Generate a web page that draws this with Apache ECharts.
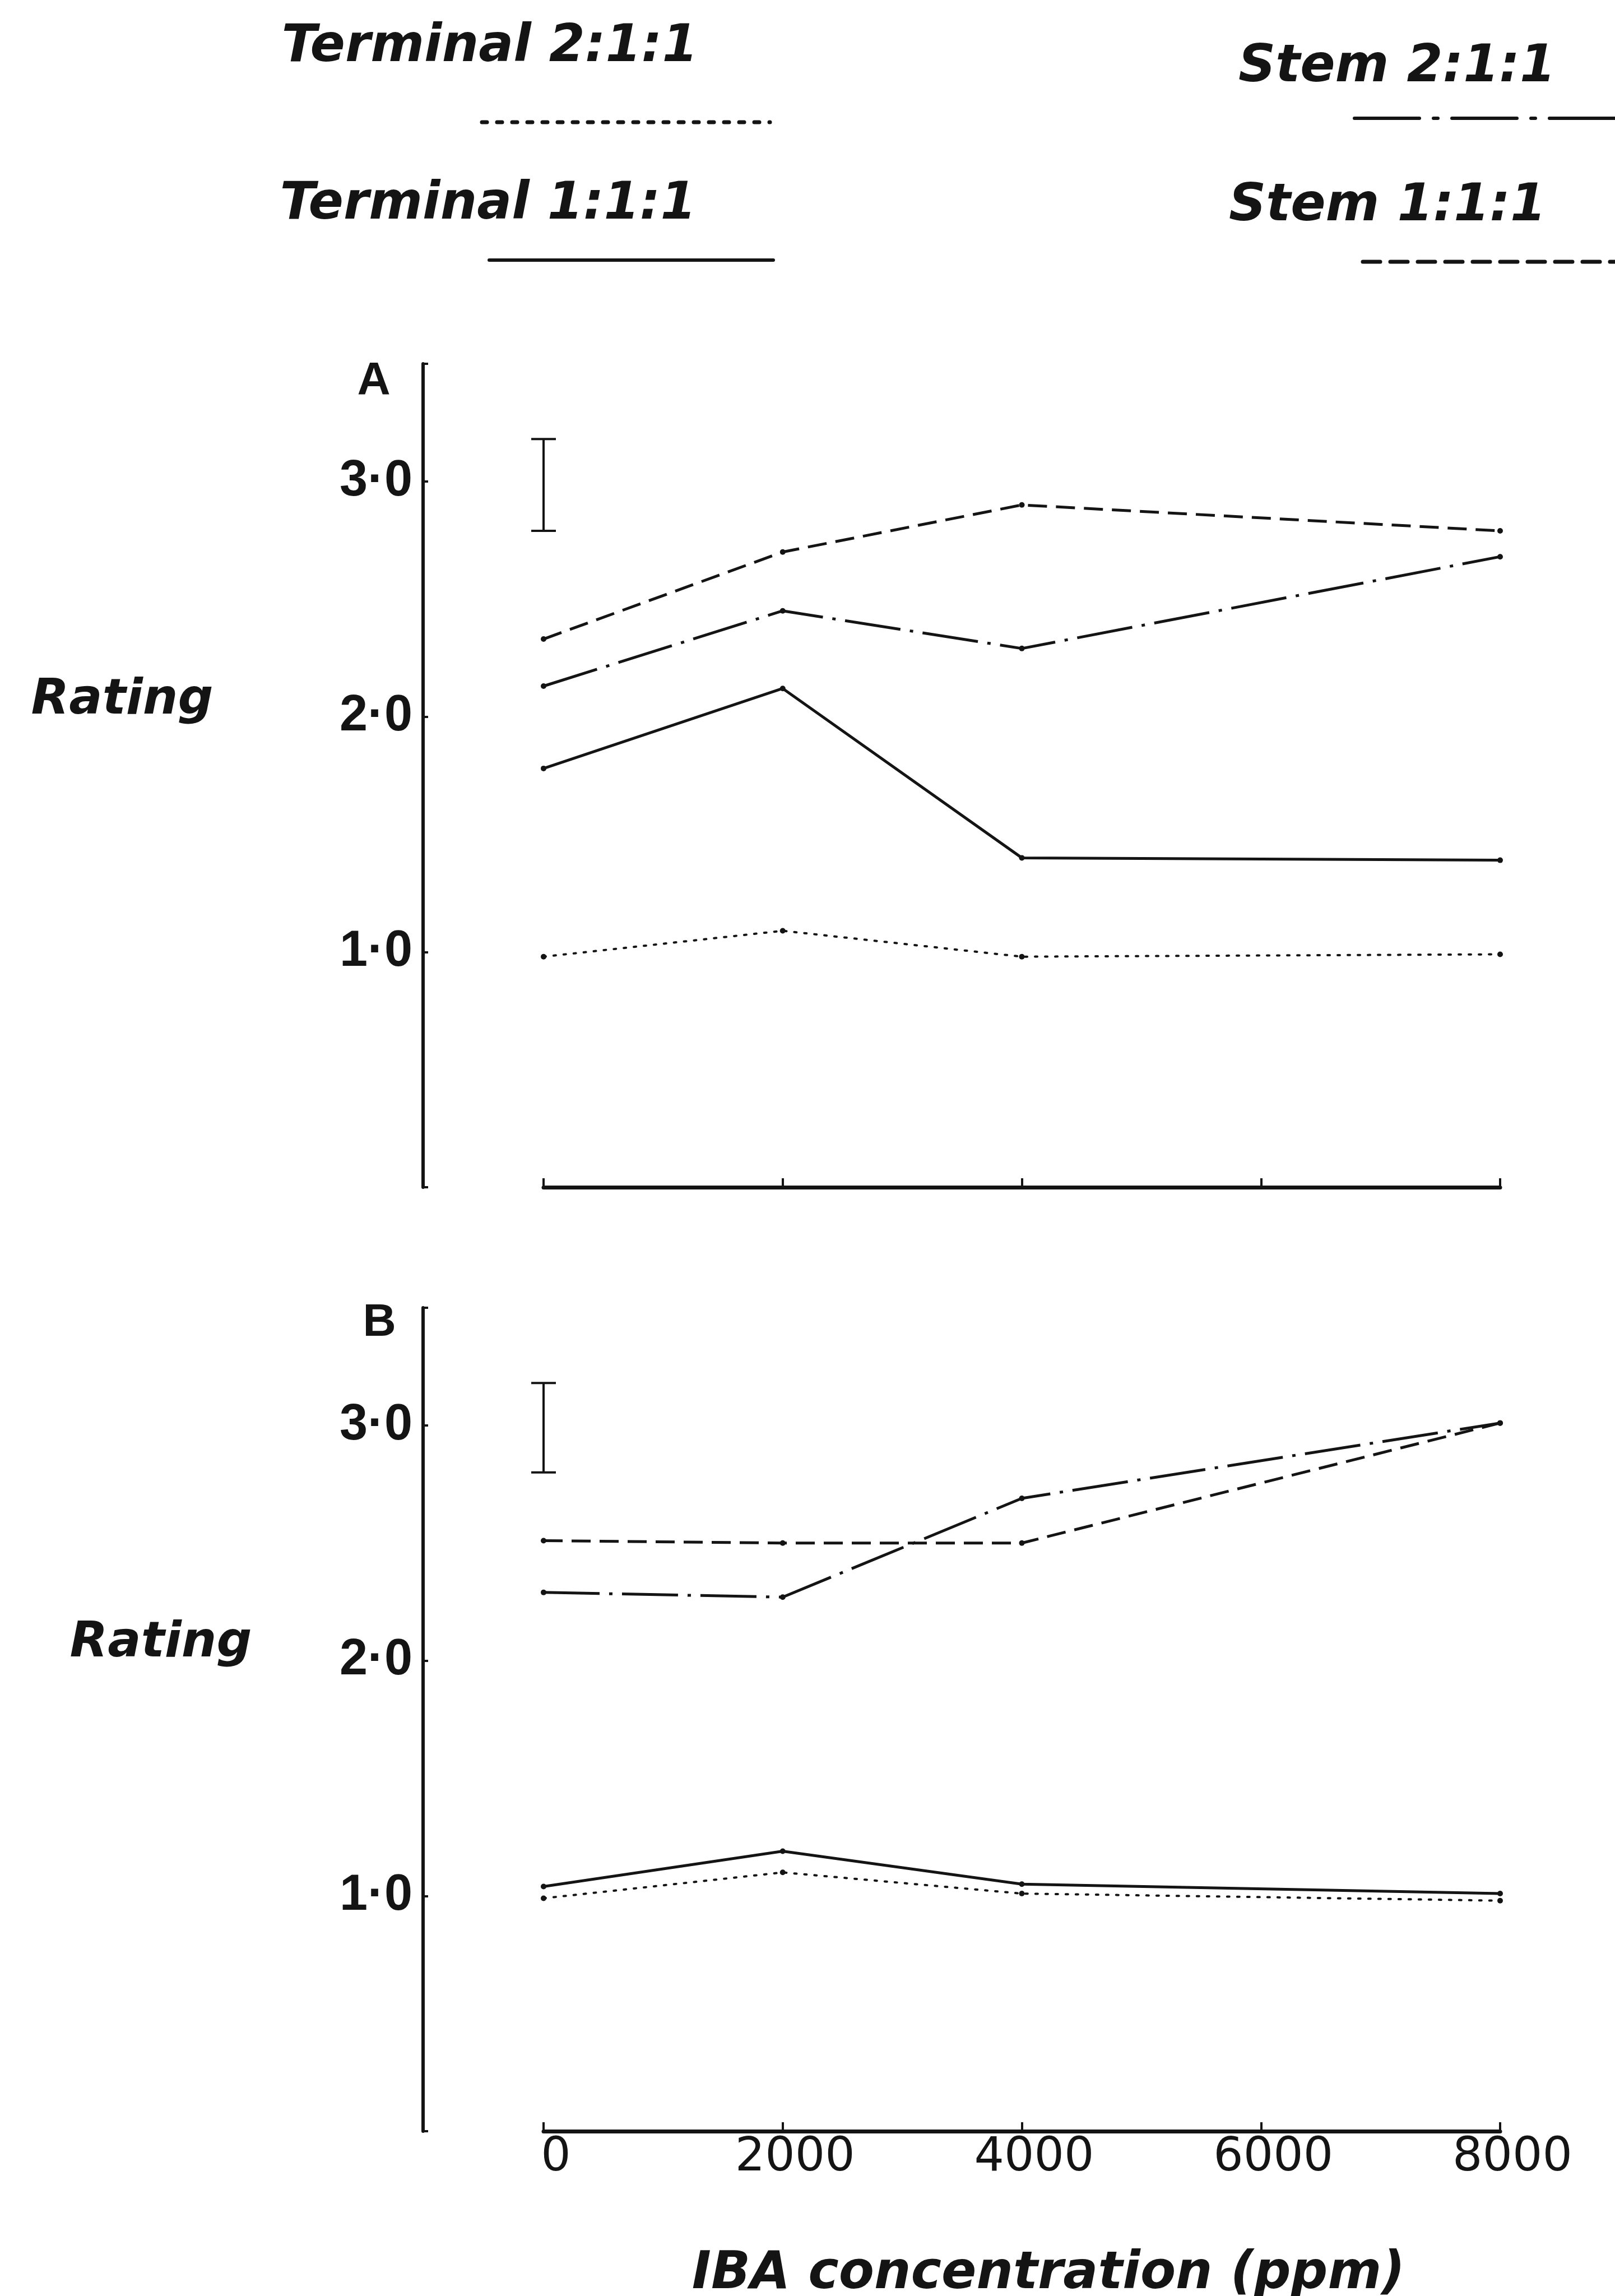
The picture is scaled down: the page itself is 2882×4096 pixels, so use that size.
<!DOCTYPE html>
<html>
<head>
<meta charset="utf-8">
<title>Rating vs IBA concentration</title>
<script src="https://cdn.jsdelivr.net/npm/echarts@6/dist/echarts.min.js"></script>
<style>
  html, body { margin: 0; padding: 0; background: #fff; }
  #chart { width: 2882px; height: 4096px; }
</style>
</head>
<body>
<div id="chart"></div>
<script>
// IBA concentration (ppm) at which ratings were taken
const ibaPpm = [0, 2000, 4000, 8000]

// panel A
const aTerminal211 = [0.98, 1.09, 0.98, 0.99]
const aTerminal111 = [1.78, 2.12, 1.40, 1.39]
const aStem211 = [2.13, 2.45, 2.29, 2.68]
const aStem111 = [2.33, 2.70, 2.90, 2.79]
const aErrorBar = [0, 2.79, 3.18] // x, low, high

// panel B
const bTerminal211 = [0.99, 1.10, 1.01, 0.98]
const bTerminal111 = [1.04, 1.19, 1.05, 1.01]
const bStem211 = [2.29, 2.27, 2.69, 3.01]
const bStem111 = [2.51, 2.50, 2.50, 3.01]
const bErrorBar = [0, 2.80, 3.18]

const ink = '#141414'

const styles = {
  terminal211: { type: [4, 14], width: 4, cap: 'round' },
  terminal111: { type: 'solid', width: 5 },
  stem211: { type: [100, 17, 6, 17], width: 5 },
  stem111: { type: [34, 16], width: 5 }
}

const pairs = (values) => ibaPpm.map((x, i) => [x, values[i]])

const lineSeries = (name, values, style, idx) => ({
  name,
  type: 'line',
  xAxisIndex: idx,
  yAxisIndex: idx,
  data: pairs(values),
  symbol: 'circle',
  symbolSize: 10,
  itemStyle: { color: ink },
  lineStyle: { color: ink, ...style },
  silent: true
})

const errorBarItem = (params, api) => {
  const low = api.coord([api.value(0), api.value(1)])
  const high = api.coord([api.value(0), api.value(2)])
  const half = 22
  const style = { stroke: ink, lineWidth: 4 }
  return {
    type: 'group',
    children: [
      { type: 'line', shape: { x1: low[0], y1: low[1], x2: high[0], y2: high[1] }, style },
      { type: 'line', shape: { x1: low[0] - half, y1: low[1], x2: low[0] + half, y2: low[1] }, style },
      { type: 'line', shape: { x1: high[0] - half, y1: high[1], x2: high[0] + half, y2: high[1] }, style }
    ]
  }
}

const errorSeries = (bar, idx) => ({
  type: 'custom',
  xAxisIndex: idx,
  yAxisIndex: idx,
  data: [bar],
  renderItem: errorBarItem,
  clip: false,
  silent: true
})

const xAxis = (idx, showLabels) => ({
  gridIndex: idx,
  type: 'value',
  min: 0,
  max: 8000,
  interval: 2000,
  axisLine: { onZero: false, lineStyle: { color: ink, width: 7 } },
  axisTick: { inside: true, length: 16, lineStyle: { color: ink, width: 4 } },
  splitLine: { show: false },
  axisLabel: {
    show: showLabels,
    color: ink,
    fontFamily: 'DejaVu Sans',
    fontSize: 84,
    margin: 6,
    padding: [0, 0, 0, 44],
    formatter: (v) => String(v)
  }
})

const yAxis = (idx) => ({
  gridIndex: idx,
  type: 'value',
  min: 0,
  max: 3.5,
  interval: 1,
  offset: 215,
  axisLine: { show: true, onZero: false, lineStyle: { color: ink, width: 6 } },
  axisTick: { show: true, inside: true, length: 9, lineStyle: { color: ink, width: 4 } },
  splitLine: { show: false },
  axisLabel: {
    color: ink,
    fontFamily: 'Liberation Sans',
    fontWeight: 'bold',
    fontSize: 90,
    margin: 19,
    padding: [0, 0, 28, 0],
    formatter: (v) => (v > 0 && Number.isInteger(v) ? v.toFixed(1).replace('.', '\u00b7') : '')
  }
})

const italicText = (text, x, y, size, weight) => ({
  type: 'text',
  x,
  y,
  style: {
    text,
    fill: ink,
    fontFamily: 'DejaVu Sans',
    fontStyle: 'italic',
    fontWeight: weight || 'bold',
    fontSize: size,
    align: 'center',
    verticalAlign: 'middle'
  },
  silent: true
})

const plainText = (text, x, y, size) => ({
  type: 'text',
  x,
  y,
  style: {
    text,
    fill: ink,
    fontFamily: 'Liberation Sans',
    fontWeight: 'bold',
    fontSize: size,
    align: 'center',
    verticalAlign: 'middle'
  },
  silent: true
})

const legendLine = (x1, x2, y, dash, width) => ({
  type: 'line',
  shape: { x1, y1: y, x2, y2: y },
  style: { stroke: ink, lineWidth: width, lineDash: dash, lineCap: 'round' },
  silent: true
})

const chart = echarts.init(document.getElementById('chart'), null, { renderer: 'canvas' })

chart.setOption({
  backgroundColor: '#fff',
  animation: false,
  grid: [
    { left: 970, width: 1707, top: 649, height: 1469 },
    { left: 970, width: 1707, top: 2333, height: 1469 }
  ],
  xAxis: [xAxis(0, false), xAxis(1, true)],
  yAxis: [yAxis(0), yAxis(1)],
  series: [
    lineSeries('Terminal 2:1:1', aTerminal211, styles.terminal211, 0),
    lineSeries('Terminal 1:1:1', aTerminal111, styles.terminal111, 0),
    lineSeries('Stem 2:1:1', aStem211, styles.stem211, 0),
    lineSeries('Stem 1:1:1', aStem111, styles.stem111, 0),
    errorSeries(aErrorBar, 0),
    lineSeries('Terminal 2:1:1', bTerminal211, styles.terminal211, 1),
    lineSeries('Terminal 1:1:1', bTerminal111, styles.terminal111, 1),
    lineSeries('Stem 2:1:1', bStem211, styles.stem211, 1),
    lineSeries('Stem 1:1:1', bStem111, styles.stem111, 1),
    errorSeries(bErrorBar, 1)
  ],
  graphic: [
    // legend
    italicText('Terminal 2:1:1', 874, 85, 92),
    legendLine(860, 1374, 218, [9, 18], 7),
    italicText('Terminal 1:1:1', 871, 366, 92),
    legendLine(873, 1380, 464, null, 6),
    italicText('Stem 2:1:1', 2493, 121, 92),
    legendLine(2417, 2890, 211, [116, 25, 8, 25], 6),
    italicText('Stem 1:1:1', 2476, 369, 92),
    legendLine(2432, 2890, 467, [31, 18], 7),
    // panel labels
    plainText('A', 667, 680, 82),
    plainText('B', 677, 2360, 82),
    italicText('Rating', 218, 1250, 88),
    italicText('Rating', 287, 2932, 88),
    // x axis title
    italicText('IBA concentration (ppm)', 1871, 4058, 92)
  ]
})
</script>
</body>
</html>
